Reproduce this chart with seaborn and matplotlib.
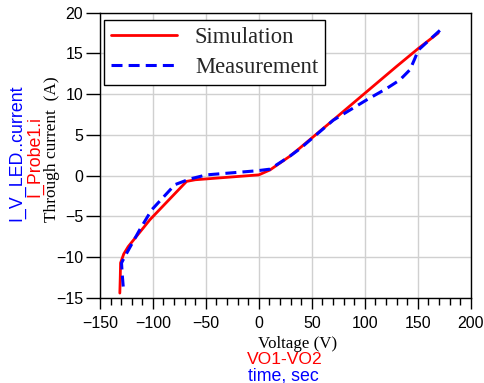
import matplotlib
matplotlib.use("Agg")
import matplotlib.pyplot as plt
from matplotlib.ticker import MultipleLocator
import numpy as np
import pandas as pd
import seaborn as sns

# Simulation (red, solid)
sim_v = [-131.2, -130.8, -130.5, -127.5, -123.3, -102.8, -68.2, -60.0, 0.0, 10.5, 29.4, 38.8, 70.0, 100.0, 130.0, 150.5, 169.4]
sim_i = [-14.4, -12.5, -10.7, -9.6, -8.7, -5.4, -0.7, -0.5, 0.1, 0.7, 2.4, 3.4, 6.8, 10.1, 13.4, 15.6, 17.5]

# Measurement (blue, dashed)
meas_v = [-128.0, -129.0, -129.6, -126.4, -112.3, -101.2, -79.2, -65.0, -49.3, -2.0, 10.5, 29.4, 38.8, 70.2, 101.8, 120.7, 133.2, 142.7, 147.4, 150.5, 174.1]
meas_i = [-13.6, -12.0, -10.7, -9.9, -6.6, -4.2, -1.1, -0.4, 0.1, 0.6, 0.8, 2.4, 3.3, 6.8, 9.3, 10.7, 11.75, 13.0, 14.4, 15.4, 18.2]

x_ticks = [-150, -100, -50, 0, 50, 100, 150, 200]
y_ticks = [-15, -10, -5, 0, 5, 10, 15, 20]

DASH = [3.6, 2.0]

sns.set_theme(style="ticks")
plt.rcParams.update({
    "font.family": ["Liberation Sans", "DejaVu Sans"],
    "axes.edgecolor": "black",
    "axes.linewidth": 1.0,
    "xtick.color": "black",
    "ytick.color": "black",
    "xtick.minor.visible": True,
})

fig = plt.figure(figsize=(4.85, 3.83), dpi=100)
ax = fig.add_axes([0.206, 0.222, 0.7645, 0.745])

sim = pd.DataFrame({"v": sim_v, "i": sim_i})
meas = pd.DataFrame({"v": meas_v, "i": meas_i})

sns.lineplot(data=sim, x="v", y="i", sort=False, estimator=None, ax=ax,
             color="#ff0000", linewidth=2.0, label="Simulation", zorder=3)
sns.lineplot(data=meas, x="v", y="i", sort=False, estimator=None, ax=ax,
             color="#0000ff", linewidth=2.2, label="Measurement", zorder=4)
ax.lines[1].set_dashes(DASH)

ax.set_xlim(-150, 200)
ax.set_ylim(-15, 20)
ax.set_xticks(x_ticks)
ax.set_yticks(y_ticks)
ax.xaxis.set_minor_locator(MultipleLocator(10))
ax.yaxis.set_minor_locator(matplotlib.ticker.NullLocator())
ax.tick_params(axis="both", which="major", labelsize=11.5, direction="out",
               length=8, width=1.0, color="black")
ax.tick_params(axis="x", which="major", pad=5)
ax.tick_params(axis="x", which="minor", direction="out", length=5, width=1.0,
               color="black", bottom=True)
ax.tick_params(axis="y", which="major", length=10, pad=2)
ax.grid(True, which="major", color="#d0d0d0", linewidth=1.0)
ax.set_axisbelow(True)
for s in ax.spines.values():
    s.set_visible(True)
    s.set_color("black")
ax.set_xlabel("")
ax.set_ylabel("")

leg = ax.legend(loc="upper left", bbox_to_anchor=(0.0, 0.99), frameon=True,
                fancybox=False, edgecolor="black", framealpha=1.0,
                prop={"family": "Liberation Serif", "size": 16.3},
                handlelength=2.9, handletextpad=0.8, borderpad=0.3,
                labelspacing=0.4, borderaxespad=0.2)
leg.get_frame().set_linewidth(1.0)
leg.legend_handles[1].set_dashes(DASH)

# stacked axis labels
fig.text(17 / 485, 1 - 153 / 383, "I_V_LED..current", color="#0000ff", rotation=90,
         ha="center", va="center", fontsize=12.8)
fig.text(35 / 485, 1 - 157 / 383, "I_Probe1.i", color="#ff0000", rotation=90,
         ha="center", va="center", fontsize=12.8)
fig.text(52 / 485, 1 - 149 / 383, "Through current  (A)", color="black", rotation=90,
         ha="center", va="center", fontsize=12.4, family="Liberation Serif")

fig.text(298 / 485, 1 - 344 / 383, "Voltage (V)", color="black",
         ha="center", va="center", fontsize=12.2, family="Liberation Serif")
fig.text(285 / 485, 1 - 360 / 383, "VO1-VO2", color="#ff0000",
         ha="center", va="center", fontsize=12.6)
fig.text(283 / 485, 1 - 376 / 383, "time, sec", color="#0000ff",
         ha="center", va="center", fontsize=12.8)

fig.savefig("out.png", dpi=100)
